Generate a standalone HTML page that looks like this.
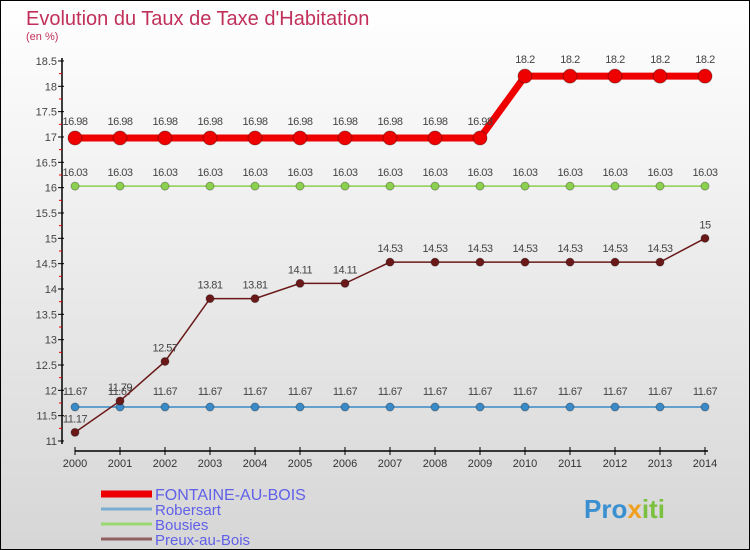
<!DOCTYPE html>
<html><head><meta charset="utf-8"><style>
body{margin:0}
#c{width:750px;height:550px;position:relative;box-sizing:border-box;border:1px solid #000;background:linear-gradient(#fff,#d6d6d6);font-family:"Liberation Sans",sans-serif;overflow:hidden}
</style></head><body>
<div id="c">
<svg width="748" height="548" xmlns="http://www.w3.org/2000/svg" id="s">
<text x="25" y="24" font-size="20" fill="#c0305a">Evolution du Taux de Taxe d'Habitation</text>
<text x="25" y="39" font-size="11" fill="#c0305a">(en %)</text>
<g id="g"></g>
<text x="583" y="517" font-size="26" font-weight="bold" fill="#3a8fd0">Pro<tspan fill="#f0a020">x</tspan><tspan fill="#7cc040">iti</tspan></text>
</svg>
</div>
<script>
const years=[2000,2001,2002,2003,2004,2005,2006,2007,2008,2009,2010,2011,2012,2013,2014];
const fontaine=[16.98,16.98,16.98,16.98,16.98,16.98,16.98,16.98,16.98,16.98,18.2,18.2,18.2,18.2,18.2];
const robersart=[11.67,11.67,11.67,11.67,11.67,11.67,11.67,11.67,11.67,11.67,11.67,11.67,11.67,11.67,11.67];
const bousies=[16.03,16.03,16.03,16.03,16.03,16.03,16.03,16.03,16.03,16.03,16.03,16.03,16.03,16.03,16.03];
const preux=[11.17,11.79,12.57,13.81,13.81,14.11,14.11,14.53,14.53,14.53,14.53,14.53,14.53,14.53,15];
const yTicks=[11,11.5,12,12.5,13,13.5,14,14.5,15,15.5,16,16.5,17,17.5,18,18.5];
const NS="http://www.w3.org/2000/svg";
const g=document.getElementById('g');
const X=i=>74+i*45;
const Y=v=>440-(v-11)*50.67;
function el(t,a){const e=document.createElementNS(NS,t);for(const k in a)e.setAttribute(k,a[k]);g.appendChild(e);return e;}
let e=el('line',{x1:61,y1:57,x2:61,y2:443,stroke:'#000','stroke-width':1.5});


e=el('line',{x1:74,y1:450,x2:707,y2:450,stroke:'#000','stroke-width':1.5});


yTicks.forEach(v=>{
 let t=el('line',{x1:57,x2:63,y1:Y(v),y2:Y(v),stroke:'#000'});
 
 
 if(v<18.5){let m=el('line',{x1:58,x2:61,y1:Y(v+0.25),y2:Y(v+0.25),stroke:'#e00'});
 
 }
 let l=el('text',{x:56,y:Y(v)+4,'font-size':11,'text-anchor':'end',fill:'#444'});
 l.textContent=String(v);
 
 
});
years.forEach((y,i)=>{
 let t=el('line',{x1:X(i),x2:X(i),y1:446,y2:454,stroke:'#000'});
 
 
 let l=el('text',{x:X(i),y:466,'font-size':11,'text-anchor':'middle',fill:'#333'});
 l.textContent=y;
 
 
});
function series(vals,color,w,r,name,dy){
 let p=el('polyline',{points:vals.map((v,i)=>X(i)+','+Y(v)).join(' '),fill:'none',stroke:color,'stroke-width':w});
 
 
 vals.forEach((v,i)=>{
  let c=el('circle',{cx:X(i),cy:Y(v),r:r,fill:color,stroke:'rgba(0,0,0,0.3)'});
  
  
  let t=el('text',{x:X(i),y:Y(v)+dy,'font-size':11,'text-anchor':'middle',fill:'#444','letter-spacing':'-0.5'});
  t.textContent=String(v);
  
  
 });
}
series(robersart,'#3a8ac8',1.5,4,'robersart',-12);
series(bousies,'#8cd050',1.5,4,'bousies',-10);
series(preux,'#6a1818',1.5,4,'preux-au-bois',-10);
series(fontaine,'#ee0000',7,7,'fontaine-au-bois',-13);
const leg=[['FONTAINE-AU-BOIS','#ee0000',7,16],['Robersart','#7aaed0',3,15],['Bousies','#9ad870',3,15],['Preux-au-Bois','#906060',3,15]];
leg.forEach((d,i)=>{
 let y=493+i*15;
 let l=el('line',{x1:100,x2:151,y1:y,y2:y,stroke:d[1],'stroke-width':d[2]});
 
 
 let t=el('text',{x:154,y:y+6,'font-size':d[3],fill:'#6060e8'});
 t.textContent=d[0];
 
 
});
</script>
</body></html>
